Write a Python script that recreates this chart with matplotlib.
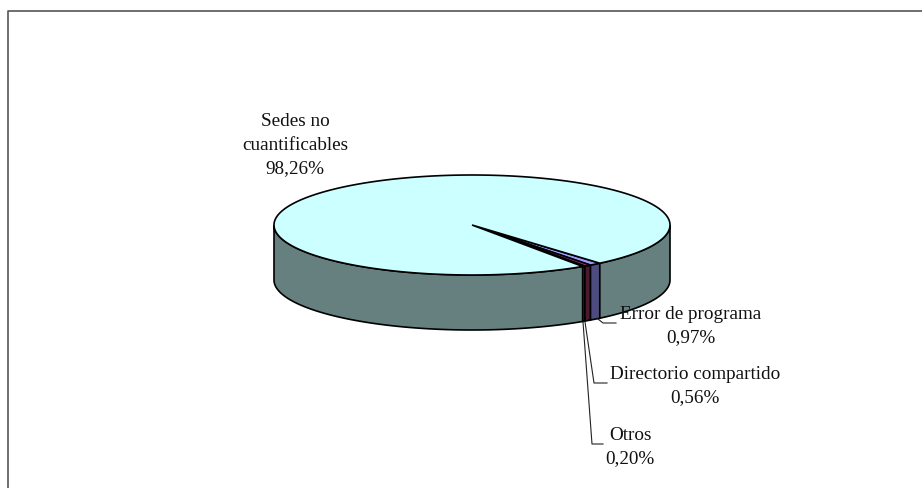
import numpy as np
import matplotlib
matplotlib.use('Agg')
import matplotlib.pyplot as plt
from matplotlib.patches import Polygon

plt.rcParams['font.family'] = ['Liberation Serif', 'DejaVu Serif']

labels = ['Sedes no\ncuantificables', 'Error de programa', 'Directorio compartido', 'Otros']
values = [98.26, 0.97, 0.56, 0.20]
texts = ['98,26%', '0,97%', '0,56%', '0,20%']
top_colors = ['#CCFFFF', '#9999FF', '#993366', '#FFFFCC']
side_colors = ['#668080', '#4C4C80', '#4C1933', '#808066']

# pie geometry in pixels
cx, cy = 472, 226
rx, ry = 198, 50
depth = 55
start = 49.8  # angle of the first small slice edge, clockwise on screen

label_pos = [(295, 145), (691, 326), (695, 386), (630, 447)]
# leaders: from the slice's lower rim, down and across to the label
leaders = [None,
           [(598, 320), (603, 324), (616, 324)],
           [(585, 323), (594, 384), (607, 384)],
           [(583, 323), (592, 445), (603, 445)]]


def rim(t):
    t = np.radians(t)
    return cx + rx * np.cos(t), cy + ry * np.sin(t)


def wall(a, b, color):
    t = np.linspace(a, b, 200)
    x, y = rim(t)
    pts = np.r_[np.c_[x, y], np.c_[x[::-1], y[::-1] + depth]]
    ax.add_patch(Polygon(pts, closed=True, fc=color, ec='black', lw=1.2, zorder=2))


fig = plt.figure(figsize=(9.22, 4.89), dpi=100)
ax = fig.add_axes([0, 0, 1, 1])
ax.set_xlim(0, 922)
ax.set_ylim(489, 0)
ax.axis('off')

# outer frame, only left and top are inside the picture
ax.plot([8, 8, 922], [489, 12, 12], color='#555555', lw=1.2)

# slice angles from the values
order = [1, 2, 3, 0]
spans = {}
a = start
for i in order:
    b = a + values[i] / sum(values) * 360
    spans[i] = (a, b)
    a = b

# side walls: only the part of each slice on the front half of the ellipse
for i in order:
    a, b = spans[i]
    if a < 180:
        wall(a, min(b, 180), side_colors[i])
    if b > 360:
        wall(0, b - 360, side_colors[i])

# top faces
for i in order:
    a, b = spans[i]
    t = np.linspace(a, b, 400)
    x, y = rim(t)
    pts = np.r_[[[cx, cy]], np.c_[x, y]]
    ax.add_patch(Polygon(pts, closed=True, fc=top_colors[i], ec='black', lw=1.2, zorder=3))

# leader lines
for line in leaders:
    if line:
        xs, ys = zip(*line)
        ax.plot(xs, ys, color='#222222', lw=0.8, zorder=4)

# labels
for name, val, (lx, ly) in zip(labels, texts, label_pos):
    ax.text(lx, ly, name + '\n' + val, ha='center', va='center', fontsize=13.8,
            color='#111111', linespacing=1.5, zorder=5)

fig.savefig('out.png', dpi=100)
